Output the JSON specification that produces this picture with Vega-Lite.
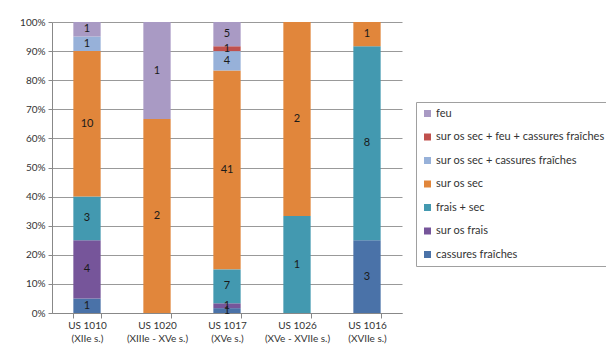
{
  "$schema": "https://vega.github.io/schema/vega-lite/v6.json",
  "width": 350,
  "height": 291,
  "autosize": {"type": "none"},
  "padding": {"left": 52, "top": 22, "right": 204, "bottom": 41},
  "background": "white",
  "config": {
    "font": "Lato",
    "view": {"stroke": null},
    "axis": {"labelFont": "Lato", "labelColor": "#333333", "labelFontSize": 10}
  },
  "data": {
    "values": [
      {"cat": "US 1010|(XIIe s.)", "type": "cassures fraîches", "ord": 0, "n": 1},
      {"cat": "US 1010|(XIIe s.)", "type": "sur os frais", "ord": 1, "n": 4},
      {"cat": "US 1010|(XIIe s.)", "type": "frais + sec", "ord": 2, "n": 3},
      {"cat": "US 1010|(XIIe s.)", "type": "sur os sec", "ord": 3, "n": 10},
      {"cat": "US 1010|(XIIe s.)", "type": "sur os sec + cassures fraîches", "ord": 4, "n": 1},
      {"cat": "US 1010|(XIIe s.)", "type": "feu", "ord": 6, "n": 1},
      {"cat": "US 1020|(XIIIe - XVe s.)", "type": "sur os sec", "ord": 3, "n": 2},
      {"cat": "US 1020|(XIIIe - XVe s.)", "type": "feu", "ord": 6, "n": 1},
      {"cat": "US 1017|(XVe s.)", "type": "cassures fraîches", "ord": 0, "n": 1},
      {"cat": "US 1017|(XVe s.)", "type": "sur os frais", "ord": 1, "n": 1},
      {"cat": "US 1017|(XVe s.)", "type": "frais + sec", "ord": 2, "n": 7},
      {"cat": "US 1017|(XVe s.)", "type": "sur os sec", "ord": 3, "n": 41},
      {"cat": "US 1017|(XVe s.)", "type": "sur os sec + cassures fraîches", "ord": 4, "n": 4},
      {"cat": "US 1017|(XVe s.)", "type": "sur os sec + feu + cassures fraîches", "ord": 5, "n": 1},
      {"cat": "US 1017|(XVe s.)", "type": "feu", "ord": 6, "n": 5},
      {"cat": "US 1026|(XVe - XVIIe s.)", "type": "frais + sec", "ord": 2, "n": 1},
      {"cat": "US 1026|(XVe - XVIIe s.)", "type": "sur os sec", "ord": 3, "n": 2},
      {"cat": "US 1016|(XVIIe s.)", "type": "cassures fraîches", "ord": 0, "n": 3},
      {"cat": "US 1016|(XVIIe s.)", "type": "frais + sec", "ord": 2, "n": 8},
      {"cat": "US 1016|(XVIIe s.)", "type": "sur os sec", "ord": 3, "n": 1}
    ]
  },
  "layer": [
    {
      "mark": {"type": "bar"},
      "encoding": {
        "x": {
          "field": "cat", "type": "nominal", "sort": null,
          "scale": {"paddingInner": 0.61, "paddingOuter": 0.305},
          "axis": {"title": null, "labelAngle": 0, "labelExpr": "split(datum.label, '|')", "labelLineHeight": 13, "labelPadding": 2, "ticks": true, "tickBand": "extent", "tickSize": 5, "tickColor": "#888888", "domain": true, "domainColor": "#888888", "grid": false}
        },
        "y": {
          "field": "n", "type": "quantitative", "stack": "normalize",
          "scale": {"domain": [0, 1], "nice": false},
          "axis": {"title": null, "format": ".0%", "values": [0, 0.1, 0.2, 0.3, 0.4, 0.5, 0.6, 0.7, 0.8, 0.9, 1], "labelOverlap": false, "grid": true, "gridColor": "#999999", "gridWidth": 1, "domain": true, "domainColor": "#888888", "tickColor": "#888888", "tickSize": 4, "labelPadding": 3}
        },
        "order": {"field": "ord", "type": "quantitative", "sort": "ascending"},
        "color": {
          "field": "type", "type": "nominal",
          "scale": {
            "domain": ["feu", "sur os sec + feu + cassures fraîches", "sur os sec + cassures fraîches", "sur os sec", "frais + sec", "sur os frais", "cassures fraîches"],
            "range": ["#A99AC4", "#C0504D", "#97B1D9", "#E1863B", "#4399B0", "#76559A", "#4A72A8"]
          },
          "legend": {
            "title": null, "orient": "none", "legendX": 364, "legendY": 80,
            "symbolType": "square", "symbolSize": 49, "symbolStrokeWidth": 0,
            "labelFontSize": 11, "labelColor": "#333333", "labelLimit": 300,
            "rowPadding": 11.5, "padding": 6, "strokeColor": "#A0A0A0", "fillColor": "white",
            "labelOffset": 3
          }
        }
      }
    },
    {
      "mark": {"type": "text", "fontSize": 11, "color": "#1a1a1a", "baseline": "middle"},
      "encoding": {
        "x": {
          "field": "cat", "type": "nominal", "sort": null,
          "axis": {"title": null, "labelAngle": 0, "labelExpr": "split(datum.label, '|')", "labelLineHeight": 13, "labelPadding": 2, "ticks": true, "tickBand": "extent", "tickSize": 5, "tickColor": "#888888", "domain": true, "domainColor": "#888888", "grid": false}
        },
        "y": {
          "field": "n", "type": "quantitative", "stack": "normalize", "bandPosition": 0.5,
          "axis": {"title": null, "format": ".0%", "values": [0, 0.1, 0.2, 0.3, 0.4, 0.5, 0.6, 0.7, 0.8, 0.9, 1], "labelOverlap": false, "grid": true, "gridColor": "#999999", "gridWidth": 1, "domain": true, "domainColor": "#888888", "tickColor": "#888888", "tickSize": 4, "labelPadding": 3}
        },
        "order": {"field": "ord", "type": "quantitative", "sort": "ascending"},
        "detail": {"field": "type", "type": "nominal"},
        "text": {"field": "n", "type": "quantitative"}
      }
    }
  ]
}
